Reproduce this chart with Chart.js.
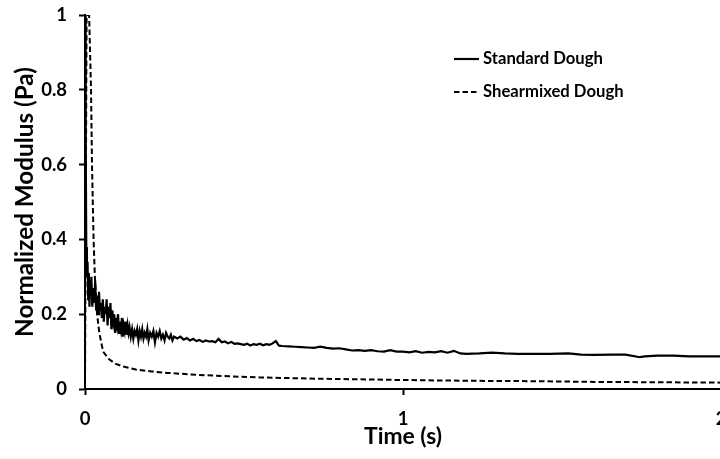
<!DOCTYPE html>
<html>
<head>
<meta charset="utf-8">
<script src="https://cdn.jsdelivr.net/npm/chart.js@4.4.0/dist/chart.umd.min.js"></script>
<style>
html,body{margin:0;padding:0;background:#fff;overflow:hidden;}
#wrap{width:728px;height:459px;position:relative;}
</style>
</head>
<body>
<div id="wrap"><canvas id="c" width="728" height="459"></canvas></div>
<script>
// ---- Data ----
const seriesNames = ["Standard Dough", "Shearmixed Dough"];

const timeStandard = [0,0.002,0.004,0.006,0.008,0.010,0.012,0.014,0.016,0.018,0.020,0.023,0.026,0.029,0.032,0.035,0.038,0.041,0.044,0.047,0.050,0.053,0.056,0.059,0.062,0.065,0.068,0.071,0.074,0.077,0.080,0.083,0.086,0.089,0.092,0.095,0.098,0.101,0.104,0.107,0.110,0.113,0.116,0.119,0.122,0.125,0.128,0.131,0.134,0.137,0.140,0.144,0.148,0.152,0.156,0.160,0.164,0.168,0.172,0.176,0.180,0.184,0.188,0.192,0.196,0.200,0.205,0.210,0.215,0.220,0.225,0.230,0.235,0.240,0.245,0.250,0.255,0.260,0.265,0.270,0.275,0.280,0.290,0.300,0.31,0.32,0.33,0.34,0.35,0.36,0.37,0.38,0.39,0.40,0.41,0.42,0.43,0.44,0.45,0.46,0.47,0.48,0.49,0.50,0.51,0.52,0.53,0.54,0.55,0.56,0.57,0.58,0.59,0.60,0.61,0.62,0.64,0.66,0.68,0.70,0.72,0.74,0.76,0.78,0.80,0.82,0.84,0.86,0.88,0.90,0.92,0.94,0.96,0.98,1.00,1.02,1.04,1.06,1.08,1.10,1.12,1.14,1.16,1.18,1.20,1.24,1.28,1.32,1.36,1.40,1.46,1.52,1.56,1.60,1.66,1.70,1.745,1.76,1.80,1.85,1.90,1.95,2.00];
const modulusStandard = [1.0,0.70,0.38,0.30,0.34,0.24,0.31,0.22,0.28,0.25,0.30,0.22,0.27,0.23,0.29,0.21,0.25,0.20,0.26,0.21,0.23,0.19,0.24,0.18,0.22,0.20,0.24,0.17,0.22,0.19,0.23,0.16,0.21,0.18,0.20,0.15,0.19,0.17,0.20,0.15,0.18,0.16,0.19,0.14,0.17,0.155,0.18,0.145,0.17,0.15,0.165,0.14,0.16,0.135,0.155,0.145,0.16,0.13,0.155,0.14,0.16,0.135,0.15,0.14,0.16,0.13,0.15,0.14,0.155,0.125,0.15,0.14,0.155,0.135,0.145,0.13,0.15,0.14,0.135,0.145,0.13,0.14,0.135,0.14,0.132,0.136,0.13,0.134,0.128,0.131,0.126,0.13,0.127,0.128,0.125,0.134,0.125,0.127,0.122,0.126,0.121,0.122,0.12,0.118,0.121,0.116,0.12,0.118,0.121,0.117,0.12,0.118,0.122,0.128,0.116,0.115,0.114,0.113,0.112,0.111,0.110,0.113,0.110,0.108,0.109,0.106,0.103,0.104,0.102,0.104,0.101,0.100,0.104,0.100,0.100,0.098,0.101,0.097,0.099,0.098,0.101,0.097,0.102,0.095,0.094,0.095,0.097,0.095,0.094,0.094,0.094,0.095,0.092,0.091,0.092,0.092,0.085,0.087,0.089,0.089,0.087,0.087,0.087];

const timeShear = [0,0.005,0.013,0.019,0.022,0.027,0.031,0.038,0.045,0.057,0.075,0.095,0.12,0.16,0.21,0.26,0.35,0.45,0.55,0.70,0.85,1.00,1.20,1.40,1.60,1.80,2.00];
const modulusShear = [0,1.0,1.0,0.80,0.60,0.40,0.30,0.20,0.15,0.10,0.08,0.068,0.060,0.052,0.047,0.043,0.038,0.034,0.031,0.028,0.026,0.024,0.022,0.021,0.019,0.018,0.017];

const xTicks = [0, 1, 2];
const yTicks = [0, 0.2, 0.4, 0.6, 0.8, 1];
const xTitle = "Time (s)";
const yTitle = "Normalized Modulus (Pa)";

const FONT = "Lato, 'Open Sans', sans-serif";

// fit a font size so that text spans a given pixel width
const mctx = document.createElement('canvas').getContext('2d');
function fitSize(text, width) {
  mctx.font = "bold 100px " + FONT;
  return 100 * width / mctx.measureText(text).width;
}
const yTitleSize = fitSize(yTitle, 270);
const xTitleSize = fitSize(xTitle, 78);
const legendSize = fitSize(seriesNames[0], 120);
const tickSize = Math.min(fitSize("0.8", 26), 18.5);

const toPts = (xs, ys) => xs.map((x, i) => ({x: x, y: ys[i]}));

const legendPlugin = {
  id: 'customLegend',
  afterDatasetsDraw(chart) {
    const ctx = chart.ctx;
    const items = chart.data.datasets;
    const x0 = 454, x1 = 479, tx = 483, ys = [59, 92];
    ctx.save();
    items.forEach((ds, i) => {
      ctx.beginPath();
      ctx.strokeStyle = ds.borderColor;
      ctx.lineWidth = ds.borderWidth;
      ctx.setLineDash(ds.borderDash || []);
      ctx.moveTo(x0, ys[i]);
      ctx.lineTo(x1, ys[i]);
      ctx.stroke();
      ctx.setLineDash([]);
      ctx.fillStyle = '#000';
      ctx.font = "bold " + legendSize + "px " + FONT;
      ctx.textBaseline = 'middle';
      ctx.textAlign = 'left';
      ctx.fillText(ds.label, tx, ys[i]);
    });
    ctx.restore();
  }
};

new Chart(document.getElementById('c'), {
  type: 'line',
  data: {
    datasets: [
      {label: seriesNames[0], data: toPts(timeStandard, modulusStandard), borderColor: '#000', borderWidth: 2.2, pointRadius: 0, tension: 0, fill: false},
      {label: seriesNames[1], data: toPts(timeShear, modulusShear), borderColor: '#000', borderWidth: 2, borderDash: [5.5, 3], pointRadius: 0, tension: 0, fill: false}
    ]
  },
  options: {
    responsive: false,
    animation: false,
    layout: {padding: {left: 0, right: 7, top: 15, bottom: 0}},
    plugins: {legend: {display: false}, tooltip: {enabled: false}},
    scales: {
      x: {
        type: 'linear', min: 0, max: 2,
        afterBuildTicks: (s) => { s.ticks = xTicks.map(v => ({value: v})); },
        afterFit: (s) => { s.height = 70; s.paddingLeft = 0; s.paddingRight = 0; },
        grid: {drawOnChartArea: false, tickLength: 6, tickColor: '#000', tickWidth: 2},
        border: {color: '#000', width: 2},
        ticks: {color: '#000', padding: 13, maxRotation: 0, callback: (v) => String(v), font: {family: FONT, size: tickSize, weight: 'bold'}},
        title: {display: true, text: xTitle, color: '#000', padding: {top: 0, bottom: 459 - 437 - xTitleSize * 0.6}, font: {family: FONT, size: xTitleSize, weight: 'bold'}}
      },
      y: {
        type: 'linear', min: 0, max: 1,
        afterBuildTicks: (s) => { s.ticks = yTicks.map(v => ({value: v})); },
        afterFit: (s) => { s.width = 85; s.paddingTop = 0; s.paddingBottom = 0; },
        grid: {drawOnChartArea: false, tickLength: 6, tickColor: '#000', tickWidth: 2},
        border: {color: '#000', width: 2},
        ticks: {color: '#000', padding: 12, callback: (v) => String(v), font: {family: FONT, size: tickSize, weight: 'bold'}},
        title: {display: true, text: yTitle, color: '#000', padding: {top: 25 - yTitleSize * 0.6, bottom: 0}, font: {family: FONT, size: yTitleSize, weight: 'bold'}}
      }
    }
  },
  plugins: [legendPlugin]
});
</script>
</body>
</html>
